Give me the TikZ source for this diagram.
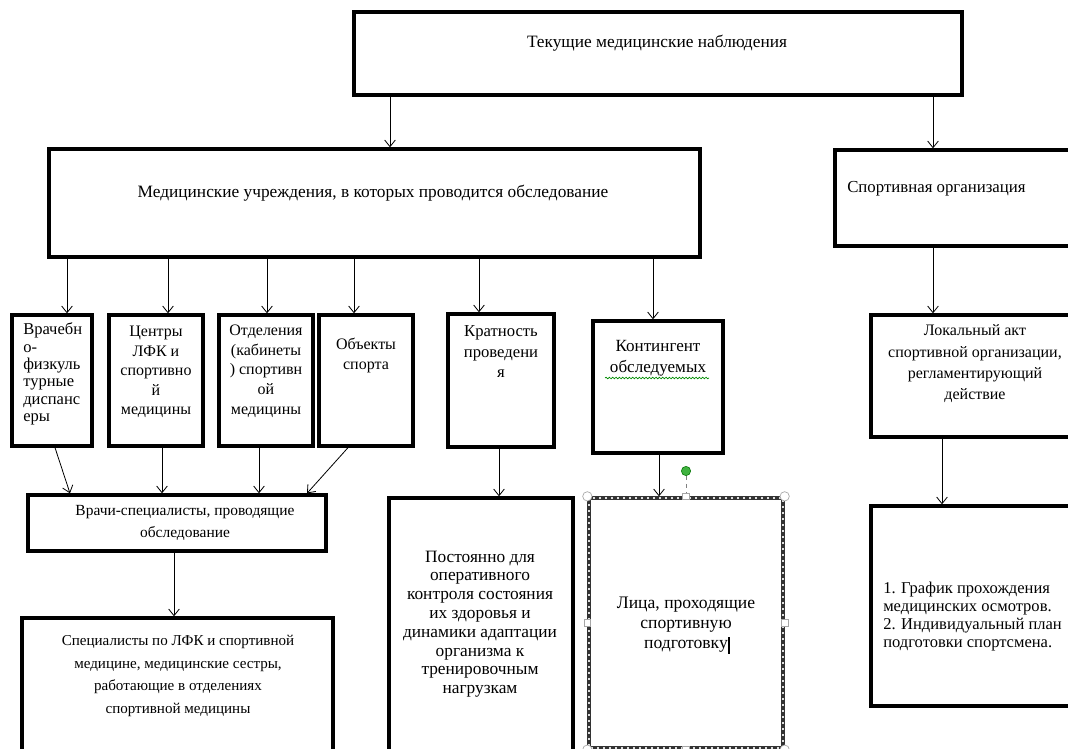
\documentclass[tikz,border=0pt]{standalone}
\usepackage{fontspec}
\setmainfont{Liberation Serif}
\usetikzlibrary{arrows.meta,positioning,fit,decorations.pathmorphing}

\begin{document}
\begin{tikzpicture}[x=0.75pt,y=-0.75pt,
    myarrow/.style={-{Straight Barb[length=5pt,width=8pt]},line width=0.6pt}]
  \tikzstyle{blk}=[draw,line width=2.5pt,inner sep=0pt]
  \tikzstyle{txt}=[inner sep=0pt,align=center,font=\fontsize{12}{15}\selectfont]
  \tikzstyle{grip}=[draw=gray!70,fill=white,line width=0.5pt,inner sep=0pt]

  \useasboundingbox (0,0) rectangle (1068,749);
  \fill[white] (0,0) rectangle (1068,749);
  \clip (0,0) rectangle (1068,749);

  % boxes
  \node[blk,fit={(354,12) (962,95)}] (top) {};
  \node[blk,fit={(49,149) (700,257)}] (med) {};
  \node[blk,fit={(835,150) (1080,246)}] (sport) {};
  \foreach \name/\xa/\xb in {U-1/12/92, U-2/109/203, U-3/219/313, U-4/319/413}
    \node[blk,fit={(\xa,315) (\xb,446)}] (\name) {};
  \node[blk,fit={(448,314) (554,447)}] (krat) {};
  \node[blk,fit={(593,321) (723,453)}] (kont) {};
  \node[blk,fit={(28,495) (326,551)}] (vrachi) {};
  \node[blk,fit={(22,618) (333,780)}] (spec) {};
  \node[blk,fit={(389,498) (573,780)}] (post) {};
  \node[blk,draw=black!80,fit={(589,498) (783,748)}] (lica) {};
  \draw[white!75!gray,line width=0.8pt,dash pattern=on 1.5pt off 3pt]
    (lica.center) ++(-97,-125) rectangle ++(194,250);
  \node[blk,fit={(871,315) (1080,437)}] (akt) {};
  \node[blk,fit={(871,506) (1080,706)}] (plan) {};

  % texts
  \node[txt,font=\fontsize{13}{15}\selectfont] (t-top) at (657,43) {Текущие медицинские наблюдения};
  \node[txt,font=\fontsize{13}{15}\selectfont] (t-med) at (373,193)
    {Медицинские учреждения, в которых проводится обследование};
  \node[txt,anchor=west,font=\fontsize{12.6}{15}\selectfont] (t-sport) at (847,189) {Спортивная организация};
  \node[txt,align=left,anchor=west,font=\fontsize{12.4}{13}\selectfont] (t-1) at (23,374)
    {Врачебн\\о-\\физкуль\\турные\\диспанс\\еры};
  \node[txt,font=\fontsize{12}{14.6}\selectfont] (t-2) at (156,372)
    {Центры\\ЛФК и\\спортивно\\й\\медицины};
  \node[txt,font=\fontsize{12}{14.8}\selectfont] (t-3) at (266,371)
    {Отделения\\(кабинеты\\) спортивн\\ой\\медицины};
  \node[txt] (t-4) at (366,355) {Объекты\\спорта};
  \node[txt,font=\fontsize{12.5}{15.4}\selectfont] (t-krat) at (501,352)
    {Кратность\\проведени\\я};
  \node[txt,font=\fontsize{12.8}{15.8}\selectfont] (t-kont) at (658,358)
    {Контингент\\обследуемых};
  \node[txt,font=\fontsize{11.6}{16.3}\selectfont] (t-vrachi) at (185,523)
    {Врачи-специалисты, проводящие\\обследование};
  \node[txt,font=\fontsize{11.3}{17}\selectfont] (t-spec) at (178,676)
    {Специалисты по ЛФК и спортивной\\медицине, медицинские сестры,\\работающие в отделениях\\спортивной медицины};
  \node[txt,font=\fontsize{13}{14.1}\selectfont] (t-post) at (480,624)
    {Постоянно для\\оперативного\\контроля состояния\\их здоровья и\\динамики адаптации\\организма к\\тренировочным\\нагрузкам};
  \node[txt,font=\fontsize{13.2}{15}\selectfont] (t-lica) at (686,625)
    {Лица, проходящие\\спортивную\\подготовку};
  \node[txt,font=\fontsize{12}{16}\selectfont] (t-akt) at (975,364)
    {Локальный акт\\спортивной организации,\\регламентирующий\\действие};
  \node[txt,align=left,anchor=west,font=\fontsize{12.4}{13.5}\selectfont] (t-plan) at (883,617)
    {1. График прохождения\\медицинских осмотров.\\2. Индивидуальный план\\подготовки спортсмена.};

  % spell-check mark and text cursor
  \draw[green!55!black,line width=0.5pt,decorate,
        decoration={snake,amplitude=0.6pt,segment length=2.5pt}] (605,378) -- (709,378);
  \draw[line width=1.1pt] (729,637) -- (729,654);

  % connectors
  \foreach \from/\to/\xa/\xb in {top/med/390/390, top/sport/933/933,
      med/U-1/67/67, med/U-2/168/168, med/U-3/267/267, med/U-4/354/354,
      med/krat/479/479, med/kont/653/653,
      U-1/vrachi/55/70, U-2/vrachi/162/162, U-3/vrachi/259/259, U-4/vrachi/348/307,
      vrachi/spec/174/174, krat/post/499/499, kont/lica/659/659,
      sport/akt/933/933, akt/plan/942/942}
    { \draw[myarrow] (\from.south -| \xa,0) -- (\to.north -| \xb,0); }

  % selection handles
  \node[circle,fill=green!60!black!75,draw=green!45!black,line width=0.4pt,
        minimum size=7pt,inner sep=0pt] (rot) at (686,471) {};
  \foreach \n/\a in {1/north,2/south,3/west,4/east}
    \node[grip,minimum size=5pt] (s-\n) at (lica.\a) {};
  \foreach \n/\a in {1/north west,2/north east,3/south west,4/south east}
    \node[grip,circle,minimum size=7pt] (c-\n) at (lica.\a) {};
  \draw[gray,dashed,line width=0.5pt] (rot) -- (s-1);
\end{tikzpicture}
\end{document}
